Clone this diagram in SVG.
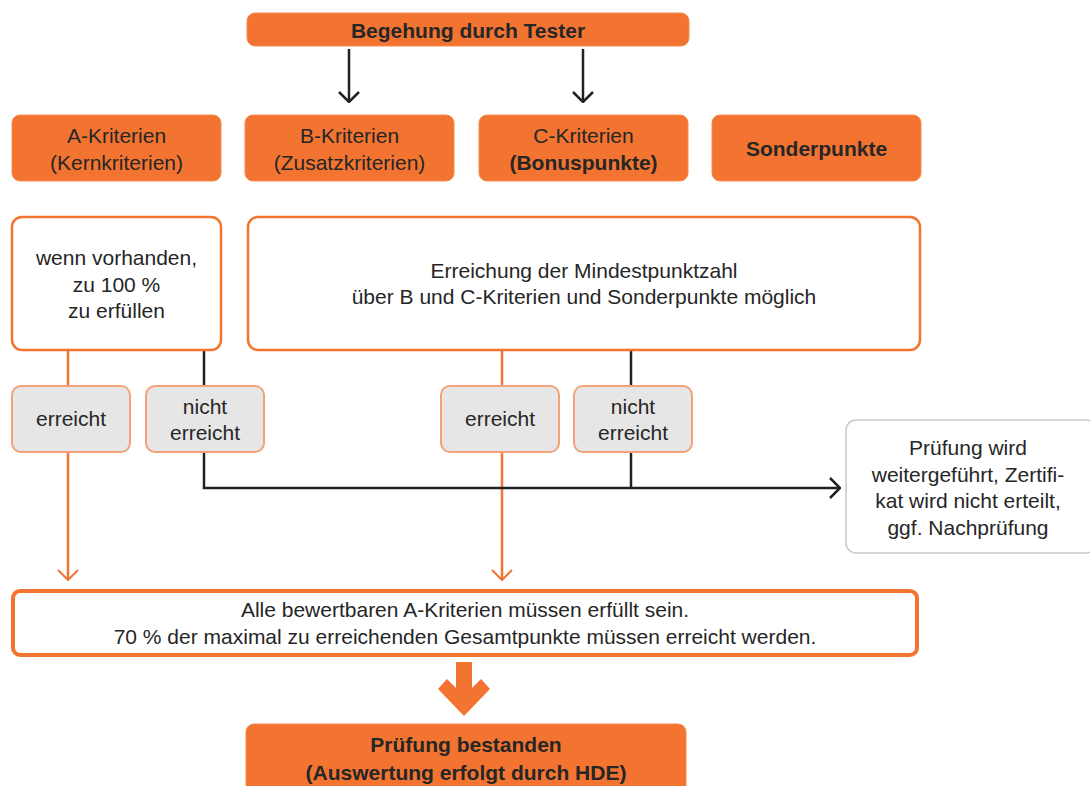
<svg xmlns="http://www.w3.org/2000/svg" width="1090" height="786" viewBox="0 0 1090 786">
<style>
text{font-family:"Liberation Sans",Arial,sans-serif;font-size:21px;fill:#262626;text-anchor:middle}
.b{font-weight:bold}
.or{fill:#F37431;stroke:#F58A50;stroke-width:1}
.wb{fill:#fff;stroke:#F37431;stroke-width:2.5}
.gb{fill:#E6E6E6;stroke:#F4A17A;stroke-width:2}
.lo{stroke:#F37431;stroke-width:2.5;fill:none}
.lk{stroke:#222;stroke-width:2.5;fill:none}
</style>
<defs>
<marker id="ak" viewBox="0 0 12 22" refX="11" refY="11" markerWidth="12" markerHeight="22" markerUnits="userSpaceOnUse" orient="auto"><path d="M1,1 L11,11 L1,21" fill="none" stroke="#222" stroke-width="2.5"/></marker>
<marker id="ao" viewBox="0 0 12 22" refX="11" refY="11" markerWidth="12" markerHeight="22" markerUnits="userSpaceOnUse" orient="auto"><path d="M1,1 L11,11 L1,21" fill="none" stroke="#F37431" stroke-width="2"/></marker>
</defs>
<g id="connectors">
<line class="lk" x1="349" y1="49" x2="349" y2="102" marker-end="url(#ak)"/>
<line class="lk" x1="583" y1="49" x2="583" y2="102" marker-end="url(#ak)"/>
<line class="lo" x1="68" y1="350" x2="68" y2="386"/>
<line class="lk" x1="204" y1="350" x2="204" y2="386"/>
<line class="lo" x1="502" y1="350" x2="502" y2="386"/>
<line class="lk" x1="631" y1="350" x2="631" y2="386"/>
<line class="lo" x1="68" y1="452" x2="68" y2="580" marker-end="url(#ao)"/>
<line class="lo" x1="502" y1="452" x2="502" y2="580" marker-end="url(#ao)"/>
<polyline class="lk" points="204,452 204,488 840,488" marker-end="url(#ak)"/>
<line class="lk" x1="631" y1="452" x2="631" y2="488"/>
<polygon fill="#F37431" points="456,662 472,662 472,688 481,679 490,689 464,716 438,689 447,679 456,688"/>
</g>
<g id="n-begehung"><rect class="or" x="247" y="13" width="442" height="33" rx="8"/><text class="b" x="468" y="38">Begehung durch Tester</text></g>
<g id="n-a"><rect class="or" x="12" y="115" width="209" height="66" rx="8"/><text x="116.5" y="142.5">A-Kriterien</text><text x="116.5" y="169.5">(Kernkriterien)</text></g>
<g id="n-b"><rect class="or" x="245" y="115" width="209" height="66" rx="8"/><text x="349.5" y="142.5">B-Kriterien</text><text x="349.5" y="169.5">(Zusatzkriterien)</text></g>
<g id="n-c"><rect class="or" x="479" y="115" width="209" height="66" rx="8"/><text x="583.5" y="142.5">C-Kriterien</text><text class="b" x="583.5" y="169.5">(Bonuspunkte)</text></g>
<g id="n-sonder"><rect class="or" x="712" y="115" width="209" height="66" rx="8"/><text class="b" x="816.5" y="155.5">Sonderpunkte</text></g>
<g id="n-vorhanden"><rect class="wb" x="12" y="217" width="209" height="133" rx="10"/><text x="116.5" y="265">wenn vorhanden,</text><text x="116.5" y="292">zu 100 %</text><text x="116.5" y="318">zu erfüllen</text></g>
<g id="n-mindest"><rect class="wb" x="248" y="217" width="672" height="133" rx="10"/><text x="584" y="278">Erreichung der Mindestpunktzahl</text><text x="584" y="304">über B und C-Kriterien und Sonderpunkte möglich</text></g>
<g id="n-err1"><rect class="gb" x="12" y="386" width="118" height="66" rx="9"/><text x="71" y="426">erreicht</text></g>
<g id="n-nerr1"><rect class="gb" x="146" y="386" width="118" height="66" rx="9"/><text x="205" y="414">nicht</text><text x="205" y="440">erreicht</text></g>
<g id="n-err2"><rect class="gb" x="441" y="386" width="118" height="66" rx="9"/><text x="500" y="426">erreicht</text></g>
<g id="n-nerr2"><rect class="gb" x="574" y="386" width="118" height="66" rx="9"/><text x="633" y="414">nicht</text><text x="633" y="440">erreicht</text></g>
<g id="n-pruefung"><rect x="846" y="420" width="250" height="133" rx="10" fill="#fff" stroke="#C8C8C8" stroke-width="1.5"/><text x="968" y="455">Prüfung wird</text><text x="968" y="482">weitergeführt, Zertifi-</text><text x="968" y="508">kat wird nicht erteilt,</text><text x="968" y="535">ggf. Nachprüfung</text></g>
<g id="n-alle"><rect x="13" y="591" width="904" height="64" rx="7" fill="#fff" stroke="#F37431" stroke-width="4"/><text x="465" y="617">Alle bewertbaren A-Kriterien müssen erfüllt sein.</text><text x="465" y="644">70 % der maximal zu erreichenden Gesamtpunkte müssen erreicht werden.</text></g>
<g id="n-bestanden"><rect class="or" x="246" y="724" width="440" height="80" rx="8"/><text class="b" x="466" y="752">Prüfung bestanden</text><text class="b" x="466" y="780">(Auswertung erfolgt durch HDE)</text></g>
</svg>
